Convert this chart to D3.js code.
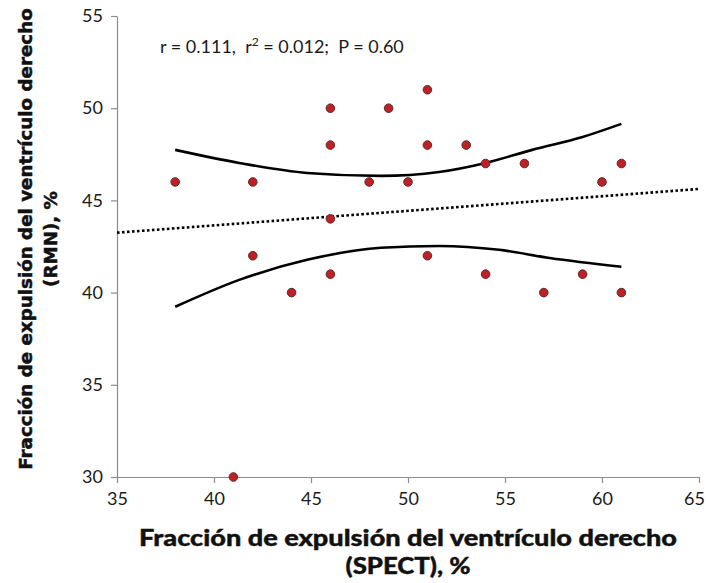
<!DOCTYPE html>
<html>
<head>
<meta charset="utf-8">
<script src="https://cdn.jsdelivr.net/npm/d3@7"></script>
<style>
  body { margin: 0; background: white; }
  text { font-family: Lato, "Open Sans", sans-serif; }
</style>
</head>
<body>
<div id="chart"></div>
<script>
var width = 706,
    height = 583

// plot area (pixel edges)
var plotLeft = 117, plotRight = 699, plotTop = 16, plotBottom = 477

// data
var spect = [38, 42, 42, 44, 41, 46, 46, 46, 46, 48, 49, 50, 51, 51, 51, 53, 54, 54, 56, 57, 59, 60, 61, 61]
var rmn   = [46, 46, 42, 40, 30, 50, 48, 44, 41, 46, 50, 46, 51, 48, 42, 48, 47, 41, 47, 40, 41, 46, 47, 40]

// regression line (dotted)
var fitX = [35, 65]
var fitY = [43.25, 45.62]

// confidence band curves
var upperX = [38, 41.3, 44.8, 48.6, 51.6, 54, 56.4, 59, 61]
var upperY = [47.74, 47.03, 46.49, 46.33, 46.54, 47.03, 47.74, 48.44, 49.15]
var lowerX = [38, 41.3, 44.8, 48.6, 51.6, 54.7, 57.3, 61]
var lowerY = [39.23, 40.69, 41.78, 42.43, 42.53, 42.32, 41.88, 41.4]

var xTicks = [35, 40, 45, 50, 55, 60, 65]
var yTicks = [30, 35, 40, 45, 50, 55]

var svg = d3.select("#chart")
    .append("svg")
        .attr("width", width)
        .attr("height", height)

var x = d3.scaleLinear().domain([35, 65]).range([plotLeft, plotRight])
var y = d3.scaleLinear().domain([30, 55]).range([plotBottom, plotTop])

// axes
var xAxis = svg.append("g")
    .attr("transform", "translate(0," + plotBottom + ")")
    .call(d3.axisBottom(x).tickValues(xTicks).tickSize(6).tickPadding(9).tickSizeOuter(0))
svg.append("g")
    .attr("transform", "translate(" + plotLeft + ",0)")
    .call(d3.axisLeft(y).tickValues(yTicks).tickSize(6).tickPadding(8).tickSizeOuter(0))

svg.selectAll(".domain, .tick line")
    .attr("stroke", "#8c8c8c")
    .attr("stroke-width", 1.2)
svg.selectAll(".tick text")
    .attr("fill", "#1a1a1a")
    .style("font-size", "18px")
    .style("font-family", "Lato, sans-serif")

// last x label sits at the page edge, pull it in a little
xAxis.selectAll(".tick text")
    .filter(function(d) { return d == 65 })
    .attr("dx", -5)

// confidence curves
var line = d3.line()
    .x(function(d) { return x(d[0]) })
    .y(function(d) { return y(d[1]) })
    .curve(d3.curveMonotoneX)

svg.append("path")
    .datum(d3.zip(upperX, upperY))
    .attr("d", line)
    .attr("fill", "none")
    .attr("stroke", "black")
    .attr("stroke-width", 2.6)
svg.append("path")
    .datum(d3.zip(lowerX, lowerY))
    .attr("d", line)
    .attr("fill", "none")
    .attr("stroke", "black")
    .attr("stroke-width", 2.6)

// regression line
svg.append("path")
    .datum(d3.zip(fitX, fitY))
    .attr("d", d3.line().x(function(d) { return x(d[0]) }).y(function(d) { return y(d[1]) }))
    .attr("fill", "none")
    .attr("stroke", "black")
    .attr("stroke-width", 2.6)
    .attr("stroke-dasharray", "2.6,2.4")

// points
svg.selectAll("circle")
    .data(d3.zip(spect, rmn))
    .enter()
    .append("circle")
        .attr("cx", function(d) { return x(d[0]) })
        .attr("cy", function(d) { return y(d[1]) })
        .attr("r", 4.3)
        .attr("fill", "#be2026")
        .attr("stroke", "#5e2a2a")
        .attr("stroke-width", 1)

// annotation
var note = svg.append("text")
    .attr("x", 160)
    .attr("y", 53)
    .style("font-size", "18px")
    .style("white-space", "pre")
    .attr("fill", "#1a1a1a")
note.append("tspan").text("r = 0.111,  r")
note.append("tspan").text("2").attr("dy", -7).style("font-size", "12px")
note.append("tspan").text(" = 0.012;  P = 0.60").attr("dy", 7)

// axis titles
var xt = svg.append("text")
    .attr("text-anchor", "middle")
    .style("font-size", "23px")
    .style("font-weight", 900)
    .attr("fill", "#111")
    .attr("stroke", "#111")
    .attr("stroke-width", 0.4)
xt.append("tspan").attr("x", 408).attr("y", 546)
    .attr("textLength", 538).attr("lengthAdjust", "spacingAndGlyphs")
    .text("Fracción de expulsión del ventrículo derecho")
xt.append("tspan").attr("x", 408).attr("y", 574)
    .attr("textLength", 125).attr("lengthAdjust", "spacingAndGlyphs")
    .text("(SPECT), %")

var yt = svg.append("text")
    .attr("text-anchor", "middle")
    .attr("transform", "translate(0,239) rotate(-90)")
    .style("font-family", "'DejaVu Sans', sans-serif")
    .style("font-weight", "bold")
    .style("font-size", "20px")
    .attr("fill", "#111")
    .attr("stroke", "#111")
    .attr("stroke-width", 0.5)
var yt1 = yt.append("tspan").attr("x", 0).attr("y", 32)
    .text("Fracción de expulsión del ventrículo derecho")
yt.append("tspan").attr("x", 0).attr("y", 57).text("(RMN), %")

// fit the first line of the y title to the reference length
var len = yt1.node().getComputedTextLength()
yt.style("font-size", (20 * 462 / len) + "px")
</script>
</body>
</html>
